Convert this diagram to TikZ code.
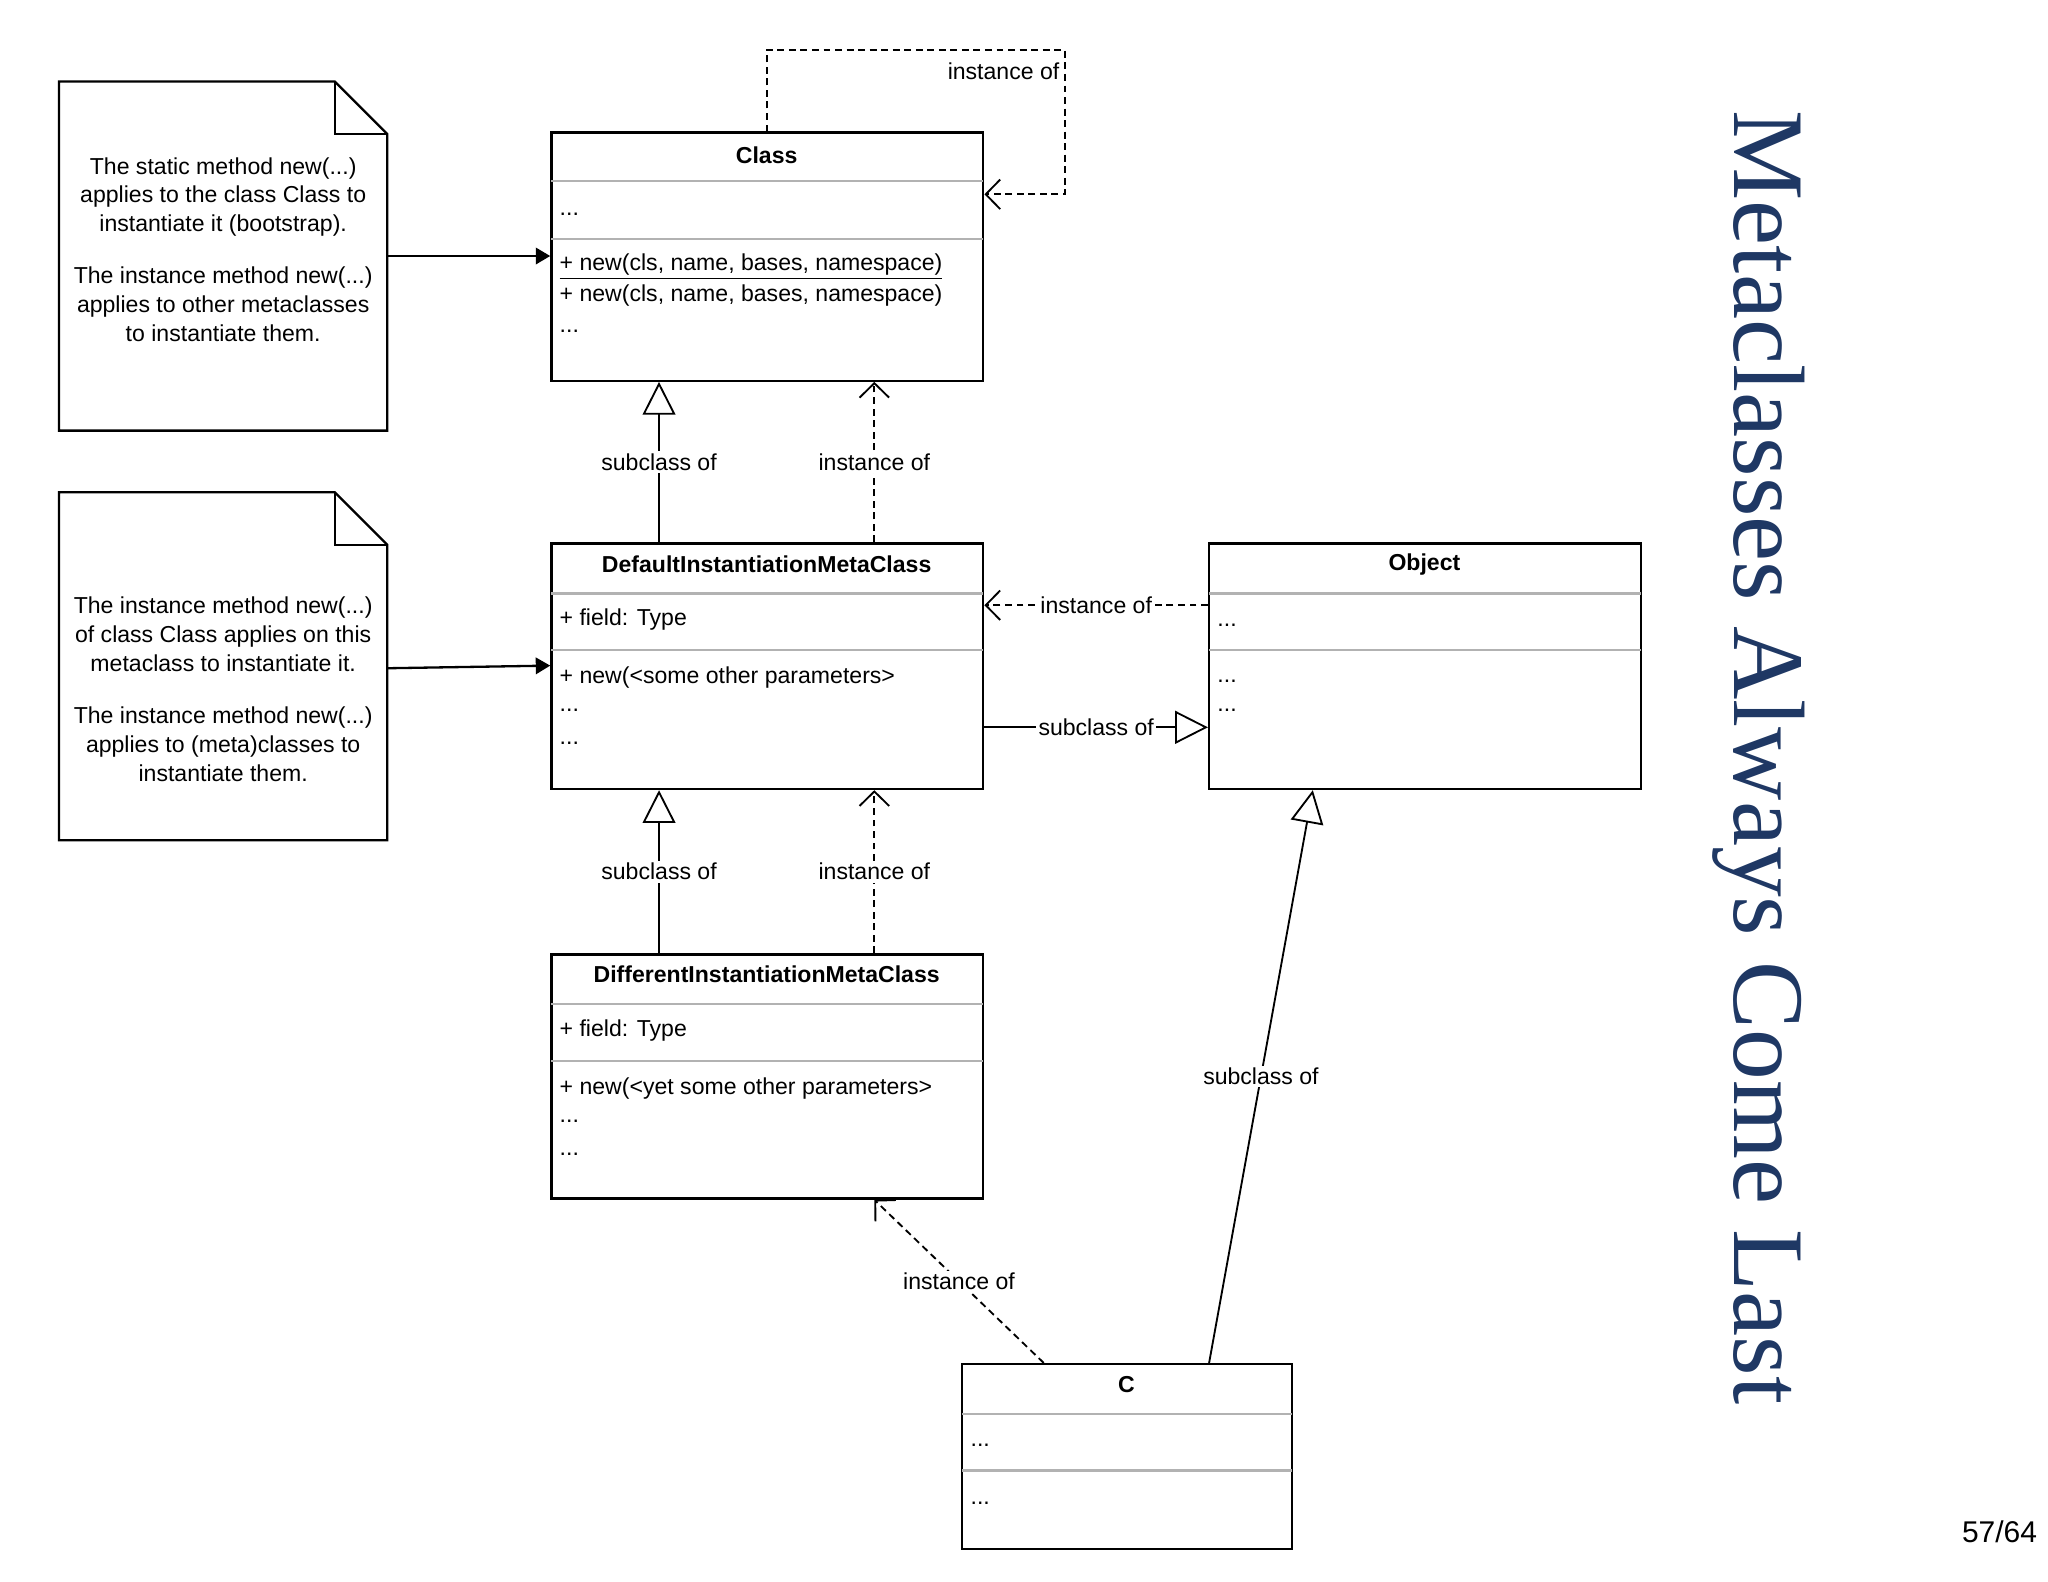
\documentclass[tikz,border=0pt]{standalone}
\usepackage{fontspec}
\setmainfont{Liberation Sans}
\newfontfamily\titlefont{Liberation Serif}
\usetikzlibrary{arrows.meta,fit,calc}
\definecolor{titleblue}{HTML}{1F3864}
\begin{document}
\begin{tikzpicture}[x=0.02cm,y=-0.02cm,
  box/.style={draw,line width=1pt,inner sep=0pt},
  sep/.style={draw=black!30,line width=1pt},
  txt/.style={font=\fontsize{10}{12.5}\selectfont,inner sep=0pt},
  mem/.style={txt,anchor=west},
  ttl/.style={txt,font=\fontsize{10}{12.5}\selectfont\bfseries},
  lbl/.style={txt,fill=white,inner sep=1pt},
  inh/.style={line width=0.8pt,-{Triangle[open,length=0.5cm,width=0.5cm]}},
  ins/.style={line width=0.8pt,densely dashed,-{Straight Barb[length=0.22cm,width=0.45cm]}},
  note/.style={line width=1pt}]
\useasboundingbox (0,0) rectangle (1560,1205);
% notes
\draw[note] (45,62) -- (255,62) -- (295,102) -- (295,328) -- (45,328) -- cycle;
\draw[note] (255,62) -- (255,102) -- (295,102);
\node[txt,align=center] (n1) at (170,190) {The static method new(...)\\applies to the class Class to\\instantiate it (bootstrap).\\[10pt]The instance method new(...)\\applies to other metaclasses\\to instantiate them.};
\coordinate (n1e) at (295,195);
\draw[note] (45,375) -- (255,375) -- (295,415) -- (295,640) -- (45,640) -- cycle;
\draw[note] (255,375) -- (255,415) -- (295,415);
\node[txt,align=center] (n2) at (170,525) {The instance method new(...)\\of class Class applies on this\\metaclass to instantiate it.\\[10pt]The instance method new(...)\\applies to (meta)classes to\\instantiate them.};
\coordinate (n2e) at (295,509);
% Class
\node[box,fit={(420,101)(749,290)}] (cls) {};
\draw[sep] (420,138) -- (749,138); \draw[sep] (420,182) -- (749,182);
\node[ttl] at (584,118) {Class};
\node[mem] at (426,163) {...};
\node[mem] at (426,203) {\underline{+ new(cls, name, bases, namespace)}};
\node[mem] at (426,225) {+ new(cls, name, bases, namespace)};
\node[mem] at (426,252) {...};
% Default
\node[box,fit={(420,414)(749,601)}] (def) {};
\draw[sep] (420,452) -- (749,452); \draw[sep] (420,495) -- (749,495);
\node[ttl] at (584,430) {DefaultInstantiationMetaClass};
\node[mem] at (426,472) {+ field: Type};
\node[mem] at (426,516) {+ new(<some other parameters>};
\node[mem] at (426,541) {...};
\node[mem] at (426,566) {...};
% Object
\node[box,fit={(921,414)(1250,601)}] (obj) {};
\draw[sep] (921,452) -- (1250,452); \draw[sep] (921,495) -- (1250,495);
\node[ttl] at (1085,430) {Object};
\node[mem] at (927,476) {...};
\node[mem] at (927,519) {...};
\node[mem] at (927,541) {...};
% Different
\node[box,fit={(420,727)(749,913)}] (dif) {};
\draw[sep] (420,765) -- (749,765); \draw[sep] (420,808) -- (749,808);
\node[ttl] at (584,742) {DifferentInstantiationMetaClass};
\node[mem] at (426,785) {+ field: Type};
\node[mem] at (426,829) {+ new(<yet some other parameters>};
\node[mem] at (426,854) {...};
\node[mem] at (426,879) {...};
% C
\node[box,fit={(733,1039)(984,1180)}] (c) {};
\draw[sep] (733,1077) -- (984,1077); \draw[sep] (733,1120) -- (984,1120);
\node[ttl] at (858,1055) {C};
\node[mem] at (739,1101) {...};
\node[mem] at (739,1145) {...};
% connectors
\draw[line width=1pt,-{Triangle[length=0.22cm,width=0.25cm]}] (n1e) -- (cls.west |- n1e);
\draw[line width=1pt,-{Triangle[length=0.22cm,width=0.25cm]}] (n2e) -- (def.west |- 0,507);
\draw[ins] (cls.north -| 584,0) -- (584,38) -- (811,38) -- (811,148) -- (cls.east |- 0,148);
\node[lbl,anchor=north east] at (809,46) {instance of};
\draw[inh] (def.north -| 502,0) -- (cls.south -| 502,0) node[lbl,pos=0.5] {subclass of};
\draw[ins] (def.north -| 666,0) -- (cls.south -| 666,0) node[lbl,pos=0.5] {instance of};
\draw[inh] (dif.north -| 502,0) -- (def.south -| 502,0) node[lbl,pos=0.5] {subclass of};
\draw[ins] (dif.north -| 666,0) -- (def.south -| 666,0) node[lbl,pos=0.5] {instance of};
\draw[ins] (obj.west |- 0,461) -- (def.east |- 0,461) node[lbl,pos=0.5] {instance of};
\draw[inh] (def.east |- 0,554) -- (obj.west |- 0,554) node[lbl,pos=0.5] {subclass of};
\draw[ins] (c.north -| 795,0) -- (dif.south -| 666,0) node[lbl,pos=0.5] {instance of};
\draw[inh] (c.north -| 921,0) -- (obj.south -| 1000,0) node[lbl,pos=0.5] {subclass of};
% title & page
\node[rotate=-90,text=titleblue,inner sep=0pt,font=\titlefont\fontsize{44}{44}\selectfont] (title) at (1340,577) {Metaclasses Always Come Last};
\node[anchor=east,inner sep=0pt,font=\fontsize{13}{15}\selectfont] (pg) at (1552,1167) {57/64};
\end{tikzpicture}
\end{document}
